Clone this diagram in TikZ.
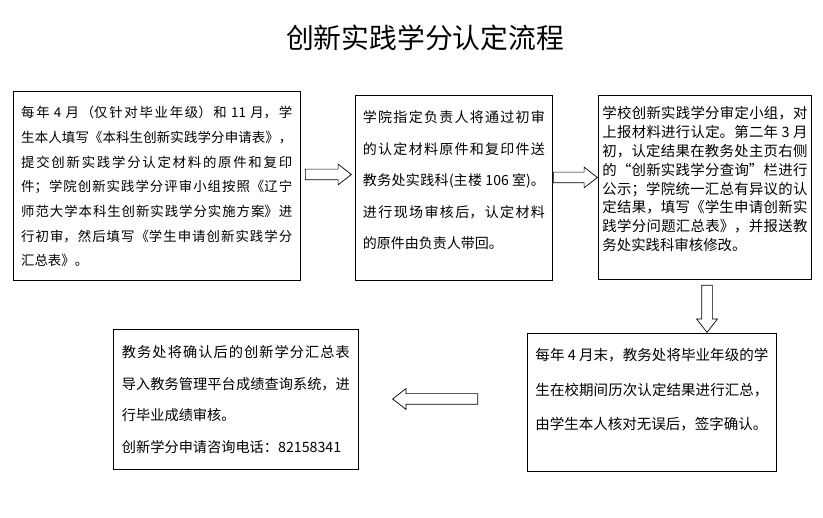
\documentclass[tikz,border=0pt]{standalone}
\usepackage{fontspec}
\setmainfont{Noto Sans CJK SC}
\XeTeXlinebreaklocale "zh"
\XeTeXlinebreakskip=0pt plus 2pt
\XeTeXlinebreakpenalty=10000
\usetikzlibrary{shapes.arrows}

\begin{document}
\begin{tikzpicture}[x=1pt,y=-1pt,
	flow box/.style={draw,line width=0.9pt,anchor=base west,inner ysep=0pt,align=justify},
	block arrow/.style={single arrow,draw,line width=0.7pt,fill=white,anchor=tail,inner sep=5pt,single arrow head extend=5pt,single arrow tip angle=76}]
	\useasboundingbox (0,0) rectangle (823,518);

	\node[font=\fontsize{27.8pt}{30pt}\selectfont] at (425,38) (title) {创新实践学分认定流程};

	\node[flow box,inner xsep=8.25pt,text width=271pt,text height=26.7pt,text depth=162.3pt,
		font=\fontsize{13.4pt}{24.7pt}\selectfont] at (12.5,117.7) (b1) {%
		每年~4~月（仅针对毕业年级）和~11~月，学\linebreak
		生本人填写《本科生创新实践学分申请表》，\linebreak
		提交创新实践学分认定材料的原件和复印\linebreak
		件；学院创新实践学分评审小组按照《辽宁\linebreak
		师范大学本科生创新实践学分实施方案》进\linebreak
		行初审，然后填写《学生申请创新实践学分\linebreak
		汇总表》。};
	\node[flow box,inner xsep=7.5pt,text width=182pt,text height=27.7pt,text depth=157.3pt,
		font=\fontsize{14pt}{31.5pt}\selectfont] at (355,122.7) (b2) {%
		学院指定负责人将通过初审\linebreak
		的认定材料原件和复印件送\linebreak
		教务处实践科(主楼~106~室)。\linebreak
		进行现场审核后，认定材料\linebreak
		的原件由负责人带回。};
	\node[flow box,inner xsep=4pt,text width=205pt,text height=23.5pt,text depth=160.5pt,
		font=\fontsize{14.4pt}{18.9pt}\selectfont] at (598,118.5) (b3) {%
		学校创新实践学分审定小组，对\linebreak
		上报材料进行认定。第二年~3~月\linebreak
		初，认定结果在教务处主页右侧\linebreak
		的“创新实践学分查询”栏进行\linebreak
		公示；学院统一汇总有异议的认\linebreak
		定结果，填写《学生申请创新实\linebreak
		践学分问题汇总表》，并报送教\linebreak
		务处实践科审核修改。};
	\node[flow box,inner xsep=8pt,text width=233pt,text height=28pt,text depth=110pt,
		font=\fontsize{14.5pt}{34.5pt}\selectfont] at (527,361) (b4) {%
		每年~4~月末，教务处将毕业年级的学\linebreak
		生在校期间历次认定结果进行汇总，\linebreak
		由学生本人核对无误后，签字确认。};
	\node[flow box,inner xsep=8.5pt,text width=228pt,text height=29pt,text depth=111pt,
		font=\fontsize{14.2pt}{31.5pt}\selectfont] at (113,358) (b5) {%
		教务处将确认后的创新学分汇总表\linebreak
		导入教务管理平台成绩查询系统，进\linebreak
		行毕业成绩审核。\\
		创新学分申请咨询电话：82158341};

	% block arrows between the steps
	\node[block arrow,minimum height=46pt] at (305,174.5) (a1) {};
	\node[block arrow,minimum height=44pt] at (553,177.5) (a2) {};
	\node[block arrow,minimum height=47pt,shape border rotate=270] at (707,285) (a3) {};
	\node[block arrow,minimum height=85pt,shape border rotate=180] at (478,399) (a4) {};

\end{tikzpicture}
\end{document}
